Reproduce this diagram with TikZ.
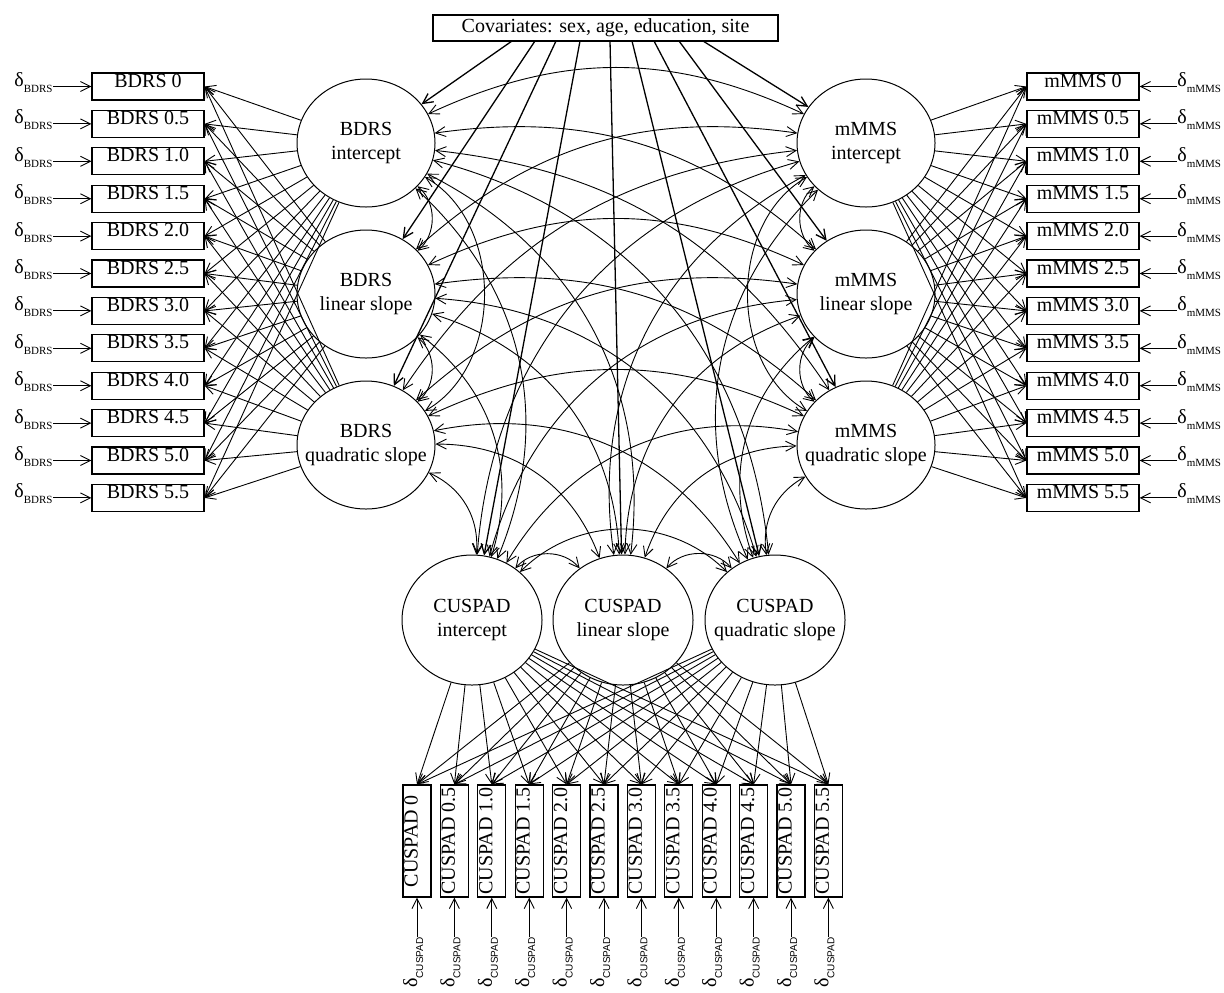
\documentclass[tikz,border=0pt]{standalone}
\usepackage{fontspec}
\setmainfont{Liberation Serif}
\newfontfamily\subsans{Liberation Sans}
\usetikzlibrary{arrows.meta,shapes.geometric}
\begin{document}
\begin{tikzpicture}[x=0.5pt,y=-0.5pt,
  >={Straight Barb[length=5pt,width=5pt]},
  every node/.style={font=\fontsize{10}{12}\selectfont},
  ind/.style={draw,line width=0.6pt,minimum width=56pt,minimum height=13.5pt,inner xsep=0pt,inner ysep=0pt,text height=7pt,text depth=6.5pt},
  lat/.style={draw,ellipse,line width=0.5pt,minimum width=69pt,minimum height=64pt,inner sep=0pt},
  clat/.style={lat,minimum width=70pt,minimum height=65pt},
  ltext/.style={align=center,inner sep=0pt},
  load/.style={->,line width=0.45pt},
  cov/.style={<->,line width=0.45pt},
  reg/.style={->,line width=0.65pt},
  err/.style={->,line width=0.45pt},
  dlab/.style={inner sep=0pt}
]
\useasboundingbox (0,0) rectangle (1224,992);

% covariates
\node[draw,line width=0.6pt,minimum width=172.5pt,minimum height=13pt,inner ysep=0pt,text height=8.5pt,text depth=4.5pt] (cov) at (605.5,28) {Covariates: sex, age, education, site};

% latent variables
\node[lat] (BI) at (366,143) {};
\node[lat] (BL) at (366,294) {};
\node[lat] (BQ) at (366,445) {};
\node[lat] (MI) at (866,143) {};
\node[lat] (ML) at (866,294) {};
\node[lat] (MQ) at (866,445) {};
\node[clat] (CI) at (472,620) {};
\node[clat] (CL) at (623,620) {};
\node[clat] (CQ) at (775,620) {};
\node[ltext] (BIt) at (BI) {BDRS\\intercept};
\node[ltext] (BLt) at (BL) {BDRS\\linear slope};
\node[ltext] (BQt) at (BQ) {BDRS\\quadratic slope};
\node[ltext] (MIt) at (MI) {mMMS\\intercept};
\node[ltext] (MLt) at (ML) {mMMS\\linear slope};
\node[ltext] (MQt) at (MQ) {mMMS\\quadratic slope};
\node[ltext] (CIt) at (CI) {CUSPAD\\intercept};
\node[ltext] (CLt) at (CL) {CUSPAD\\linear slope};
\node[ltext] (CQt) at (CQ) {CUSPAD\\quadratic slope};

% indicators
\foreach \v [count=\i from 0] in {0,0.5,1.0,1.5,2.0,2.5,3.0,3.5,4.0,4.5,5.0,5.5}{
  \node[ind] (b\i) at (148,{86.5+37.4*\i}) {BDRS \v};
  \node[ind] (m\i) at (1083,{86.5+37.4*\i}) {mMMS \v};
  \node[ind,rotate=90,minimum height=14pt] (c\i) at ({417+37.4*\i},841) {CUSPAD \v};
  \node[dlab,anchor=base east] (db\i) at (53,{86.5+37.4*\i}) {δ\raisebox{-3pt}{\fontsize{5.5}{6}\selectfont BDRS}};
  \node[dlab,anchor=base west] (dm\i) at (1177,{86.5+37.4*\i}) {δ\raisebox{-3pt}{\fontsize{5.5}{6}\selectfont mMMS}};
  \node[dlab,rotate=90,anchor=base east] (dc\i) at ({417+37.4*\i},937) {δ\raisebox{-3pt}{\subsans\fontsize{5}{6}\selectfont CUSPAD}};
  \draw[err] (db\i.base east) -- (b\i.west);
  \draw[err] (dm\i.base west) -- (m\i.east);
  \draw[err] (dc\i.base east) -- (c\i.west);
}

% loadings
\foreach \l in {BI,BL,BQ}{\foreach \k in {0,...,11}{\draw[load] (\l) -- (b\k.east);}}
\foreach \l in {MI,ML,MQ}{\foreach \k in {0,...,11}{\draw[load] (\l) -- (m\k.west);}}
\foreach \l in {CI,CL,CQ}{\foreach \k in {0,...,11}{\draw[load] (\l) -- (c\k.east);}}

% covariate regressions
\coordinate (k1) at (512,41);
\coordinate (k2) at (535,41);
\coordinate (k3) at (556,41);
\coordinate (k4) at (580,41);
\coordinate (k5) at (610,41);
\coordinate (k6) at (632,41);
\coordinate (k7) at (654,41);
\coordinate (k8) at (679,41);
\coordinate (k9) at (703,41);
\draw[reg] (k1) -- (BI);
\draw[reg] (k2) -- (BL);
\draw[reg] (k3) -- (BQ);
\draw[reg] (k4) -- (CI);
\draw[reg] (k5) -- (CL);
\draw[reg] (k6) -- (CQ);
\draw[reg] (k7) -- (MQ);
\draw[reg] (k8) -- (ML);
\draw[reg] (k9) -- (MI);

% covariances within constructs
\draw[cov] (BI) to[bend left=50] (BL);
\draw[cov] (BL) to[bend left=50] (BQ);
\draw[cov] (BI) to[bend left=60] (BQ);
\draw[cov] (MI) to[bend right=50] (ML);
\draw[cov] (ML) to[bend right=50] (MQ);
\draw[cov] (MI) to[bend right=60] (MQ);
\draw[cov] (CI) to[bend left=50] (CL);
\draw[cov] (CL) to[bend left=50] (CQ);
\draw[cov] (CI) to[bend left=45] (CQ);

% covariances between constructs
\foreach \a in {BI,BL,BQ}{\foreach \b in {MI,ML,MQ}{\draw[cov] (\a) to[bend left=25] (\b);}}
\foreach \a in {BI,BL,BQ}{\foreach \b in {CI,CL,CQ}{\draw[cov] (\a) to[bend left=35] (\b);}}
\foreach \a in {MI,ML,MQ}{\foreach \b in {CI,CL,CQ}{\draw[cov] (\a) to[bend right=35] (\b);}}
\end{tikzpicture}
\end{document}
